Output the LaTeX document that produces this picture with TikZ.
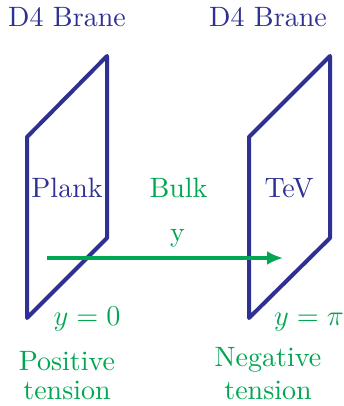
\documentclass[tikz,border=0pt]{standalone}
\usepackage{fontspec}
\newfontfamily\cmten{lmroman10-regular.otf}
\usetikzlibrary{arrows.meta}
\definecolor{braneblue}{RGB}{46,49,146}
\definecolor{bulkgreen}{RGB}{0,166,81}
\tikzset{
  brane/.style={draw=braneblue, line width=2pt, line join=round, line cap=round},
  bluetext/.style={text=braneblue, anchor=base, inner sep=0pt},
  greentext/.style={text=bulkgreen, anchor=base, inner sep=0pt},
}
\begin{document}
\begin{tikzpicture}[x=0.5pt, y=0.5pt, font=\fontsize{14}{17}\cmten]
	\useasboundingbox (0,0) rectangle (343,406);
	% the two branes
	\draw[brane] (27,88)--(27,269)--(107,350)--(107,168)--cycle;
	\draw[brane] (249,88)--(249,269)--(330,350)--(330,168)--cycle;
	% labels
	\node[bluetext] (planktop) at (67,379) {D4 Brane};
	\node[bluetext] (tevtop) at (268,379) {D4 Brane};
	\node[bluetext] (plank) at (67,208) {Plank};
	\node[greentext] (bulk) at (178.5,208) {Bulk};
	\node[bluetext] (tev) at (289,208) {TeV};
	% extra dimension
	\coordinate (ystart) at (47,148);
	\coordinate (yend) at (283,148);
	\draw[bulkgreen, line width=2pt, -{Latex[length=8pt,width=7pt]}] (ystart)--(yend);
	\node[greentext] (ylabel) at (177.5,164) {y};
	\node[greentext] (yzero) at (87,80) {$y=0$};
	\node[greentext] (ypi) at (309,80) {$y=\pi$};
	\node[greentext] (pos) at (67,35) {Positive};
	\node[greentext] (postens) at (67,6) {tension};
	\node[greentext] (neg) at (268,39) {Negative};
	\node[greentext] (negtens) at (268,6) {tension};
\end{tikzpicture}
\end{document}
